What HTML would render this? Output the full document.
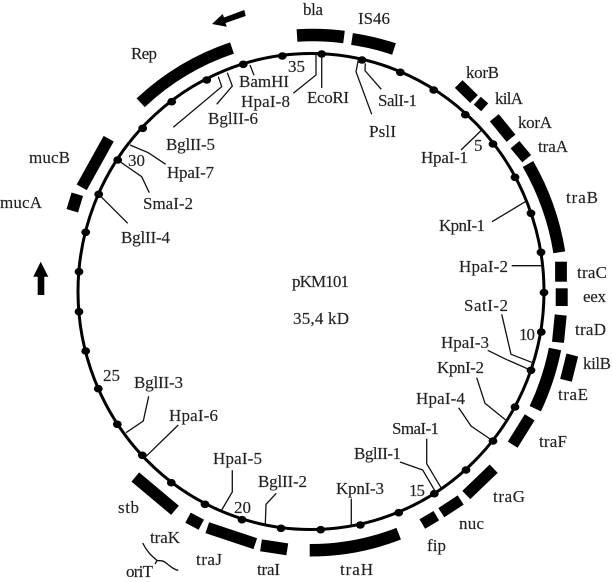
<!DOCTYPE html>
<html><head><meta charset="utf-8"><style>
html,body{margin:0;padding:0;background:#fff}
svg{display:block;filter:blur(0.35px)}
text{font-family:"Liberation Serif",serif;font-size:17px;fill:#222;stroke:#222;stroke-width:0.15px}
</style></head><body>
<svg width="612" height="582" viewBox="0 0 612 582" xmlns="http://www.w3.org/2000/svg">
<rect width="612" height="582" fill="#fff"/>
<ellipse cx="311" cy="291.5" rx="233" ry="238" fill="none" stroke="#000" stroke-width="3"/>
<g fill="#000">
<ellipse cx="282.3" cy="56" rx="4.4" ry="3.8"/><ellipse cx="243.3" cy="64.3" rx="4.4" ry="3.8"/><ellipse cx="206.7" cy="80" rx="4.4" ry="3.8"/><ellipse cx="171.7" cy="101.7" rx="4.4" ry="3.8"/><ellipse cx="142.7" cy="128.3" rx="4.4" ry="3.8"/><ellipse cx="117.7" cy="160" rx="4.4" ry="3.8"/><ellipse cx="98.7" cy="194.3" rx="4.4" ry="3.8"/><ellipse cx="85.7" cy="232.3" rx="4.4" ry="3.8"/><ellipse cx="79" cy="271.7" rx="4.4" ry="3.8"/>
<ellipse cx="321.7" cy="54" rx="4.4" ry="3.8"/><ellipse cx="362" cy="60" rx="4.4" ry="3.8"/><ellipse cx="400.3" cy="72.3" rx="4.4" ry="3.8"/><ellipse cx="433.7" cy="90" rx="4.4" ry="3.8"/><ellipse cx="465.3" cy="114.7" rx="4.4" ry="3.8"/><ellipse cx="493" cy="144" rx="4.4" ry="3.8"/><ellipse cx="515" cy="177.3" rx="4.4" ry="3.8"/><ellipse cx="531" cy="213.3" rx="4.4" ry="3.8"/><ellipse cx="541" cy="252.3" rx="4.4" ry="3.8"/><ellipse cx="544" cy="292.5" rx="4.4" ry="3.8"/>
<ellipse cx="79" cy="311.7" rx="4.4" ry="3.8"/><ellipse cx="85.7" cy="351" rx="4.4" ry="3.8"/><ellipse cx="98.3" cy="388.7" rx="4.4" ry="3.8"/><ellipse cx="117.3" cy="424.3" rx="4.4" ry="3.8"/><ellipse cx="142.3" cy="455.3" rx="4.4" ry="3.8"/><ellipse cx="171.3" cy="482.7" rx="4.4" ry="3.8"/><ellipse cx="205" cy="504.3" rx="4.4" ry="3.8"/><ellipse cx="242" cy="519.7" rx="4.4" ry="3.8"/><ellipse cx="281" cy="528.3" rx="4.4" ry="3.8"/>
<ellipse cx="541.3" cy="332" rx="4.4" ry="3.8"/><ellipse cx="531" cy="370.3" rx="4.4" ry="3.8"/><ellipse cx="515" cy="407" rx="4.4" ry="3.8"/><ellipse cx="493" cy="441" rx="4.4" ry="3.8"/><ellipse cx="466" cy="470" rx="4.4" ry="3.8"/><ellipse cx="434.3" cy="493.7" rx="4.4" ry="3.8"/><ellipse cx="398.7" cy="512.7" rx="4.4" ry="3.8"/><ellipse cx="360.3" cy="525" rx="4.4" ry="3.8"/><ellipse cx="320.7" cy="529.7" rx="4.4" ry="3.8"/>
</g>
<g fill="none" stroke="#000">
<path stroke-width="12" d="M140.7 102.7A251 256 0 0 1 232 48"/>
<path stroke-width="12.5" d="M297 35.5A251 256 0 0 1 344 37"/>
<path stroke-width="12" d="M352 39A251 256 0 0 1 394 49"/>
<path stroke-width="11" d="M458.7 84L474 99"/>
<path stroke-width="10.5" d="M477.3 100.7L484.7 107.3"/>
<path stroke-width="11.5" d="M494.3 117.7L511 138.3"/>
<path stroke-width="11.5" d="M515 144.7L526.7 158.7"/>
<path stroke-width="12" d="M528 164A251 256 0 0 1 559.3 252.3"/>
<path stroke-width="11.8" d="M561 261.7V281.7"/>
<path stroke-width="12" d="M561.7 288.3V306"/>
<path stroke-width="12" d="M560.7 315L558 342.3"/>
<path stroke-width="12.5" d="M555 349A251 256 0 0 1 535.3 408.7"/>
<path stroke-width="12" d="M572.3 355L566 380.3"/>
<path stroke-width="11.5" d="M529.7 417.3L512.7 444.7"/>
<path stroke-width="11.5" d="M493.7 468.7L466.3 495"/>
<path stroke-width="11" d="M460.7 500L441.3 512.7"/>
<path stroke-width="11" d="M436.3 515.7L422.3 524"/>
<path stroke-width="12.5" d="M398.7 533.7A251 256 0 0 1 309.7 550.3"/>
<path stroke-width="12" d="M261 545.3L287.3 549.3"/>
<path stroke-width="11.5" d="M207.3 527.7L255.3 543.7"/>
<path stroke-width="11.5" d="M188 517.7L201.3 524.7"/>
<path stroke-width="12" d="M135.3 477L175 510.3"/>
<path stroke-width="12" d="M77.3 194.3L72.3 210.7"/>
<path stroke-width="11.5" d="M108.7 138.7L81.7 187.3"/>
</g>
<g fill="#000">
<polygon points="212,24 222.7,14 224,17.5 244.3,10 245.7,16 225.5,23 226.7,26.7"/>
<polygon points="40.7,261.7 48.3,276.7 44.3,276.7 44.3,295 37.7,295 37.7,276.7 33.3,276.7"/>
</g>
<g fill="none" stroke="#111" stroke-width="1.3">
<path d="M250 65L254 75.3"/>
<path d="M293.3 93.3L316 75V55"/>
<path d="M321.7 55V88"/>
<path d="M227.3 72.7L232.3 86L216.7 104.3"/>
<path d="M218.3 76.7L221.7 86.7L173.3 127.3"/>
<path d="M130 145L148.3 152.7L165.7 164.3"/>
<path d="M120 161.7L141.7 176.7L149.3 192.7"/>
<path d="M98.7 194.3L127.7 223.3"/>
<path d="M358.3 60L356 71.7L371.7 114.3"/>
<path d="M365.3 63.3L365 70.7L381.3 89.3"/>
<path d="M481.7 130L461 150"/>
<path d="M525.3 201.7L492 221.7"/>
<path d="M511.7 265.7H542"/>
<path d="M126 432.7L143.3 421L148.7 396.3"/>
<path d="M145.7 456.7L178.3 425"/>
<path d="M221.7 510L232.3 492V470.3"/>
<path d="M265.3 524.3L266 504.3L276.3 493.3"/>
<path d="M142.7 543C147 552 152 556 157 560.5C160 561 163 560 166 563C170 566 174 570 178.3 570.3"/>
<path d="M157 560.5L155 564"/>
<path d="M501.7 314.3L511 354.3L532.7 362.7"/>
<path d="M487.7 350.3L506 359.3L531 370.3"/>
<path d="M476.7 377.7L485 403.3L506 420.3"/>
<path d="M458.7 407.7L471 426L493 441"/>
<path d="M426.7 438.7V463.7L441 487.7"/>
<path d="M400 462L422.7 470L436 492.7"/>
<path d="M351.3 498.7V526"/>
</g>
<text x="131" y="59" textLength="26" lengthAdjust="spacing">Rep</text>
<text x="29" y="163" textLength="41" lengthAdjust="spacing">mucB</text>
<text x="0" y="208" textLength="42" lengthAdjust="spacing">mucA</text>
<text x="239" y="87" textLength="50" lengthAdjust="spacing">BamHI</text>
<text x="241" y="107" textLength="49" lengthAdjust="spacing">HpaI-8</text>
<text x="208" y="124" textLength="50" lengthAdjust="spacing">BglII-6</text>
<text x="166" y="150" textLength="49" lengthAdjust="spacing">BglII-5</text>
<text x="167" y="178" textLength="47" lengthAdjust="spacing">HpaI-7</text>
<text x="128" y="166" textLength="17" lengthAdjust="spacing">30</text>
<text x="143" y="209" textLength="50" lengthAdjust="spacing">SmaI-2</text>
<text x="121" y="243" textLength="49" lengthAdjust="spacing">BglII-4</text>
<text x="288" y="72" textLength="17" lengthAdjust="spacing">35</text>
<text x="303" y="15" textLength="20" lengthAdjust="spacing">bla</text>
<text x="358" y="24" textLength="32" lengthAdjust="spacing">IS46</text>
<text x="307" y="103" textLength="42" lengthAdjust="spacing">EcoRI</text>
<text x="378" y="106" textLength="39" lengthAdjust="spacing">SalI-1</text>
<text x="369" y="137" textLength="27" lengthAdjust="spacing">PslI</text>
<text x="466" y="78" textLength="33" lengthAdjust="spacing">korB</text>
<text x="495" y="104" textLength="28" lengthAdjust="spacing">kilA</text>
<text x="518" y="128" textLength="34" lengthAdjust="spacing">korA</text>
<text x="538" y="152" textLength="30" lengthAdjust="spacing">traA</text>
<text x="474" y="151">5</text>
<text x="421" y="163" textLength="47" lengthAdjust="spacing">HpaI-1</text>
<text x="566" y="203" textLength="32" lengthAdjust="spacing">traB</text>
<text x="439" y="231" textLength="46" lengthAdjust="spacing">KpnI-1</text>
<text x="459" y="272" textLength="49" lengthAdjust="spacing">HpaI-2</text>
<text x="577" y="278" textLength="30" lengthAdjust="spacing">traC</text>
<text x="292" y="287" textLength="57" lengthAdjust="spacing">pKM101</text>
<text x="293" y="324" textLength="56" lengthAdjust="spacing">35,4 kD</text>
<text x="583" y="302" textLength="23" lengthAdjust="spacing">eex</text>
<text x="575" y="335" textLength="31" lengthAdjust="spacing">traD</text>
<text x="464" y="311" textLength="44" lengthAdjust="spacing">SatI-2</text>
<text x="519" y="340" textLength="16" lengthAdjust="spacing">10</text>
<text x="441" y="348" textLength="48" lengthAdjust="spacing">HpaI-3</text>
<text x="437" y="373" textLength="47" lengthAdjust="spacing">KpnI-2</text>
<text x="583" y="369" textLength="28" lengthAdjust="spacing">kilB</text>
<text x="558" y="400" textLength="30" lengthAdjust="spacing">traE</text>
<text x="416" y="404" textLength="49" lengthAdjust="spacing">HpaI-4</text>
<text x="539" y="447" textLength="28" lengthAdjust="spacing">traF</text>
<text x="392" y="434" textLength="47" lengthAdjust="spacing">SmaI-1</text>
<text x="354" y="459" textLength="47" lengthAdjust="spacing">BglII-1</text>
<text x="409" y="496" textLength="16" lengthAdjust="spacing">15</text>
<text x="336" y="494" textLength="48" lengthAdjust="spacing">KpnI-3</text>
<text x="493" y="502" textLength="32" lengthAdjust="spacing">traG</text>
<text x="459" y="529" textLength="25" lengthAdjust="spacing">nuc</text>
<text x="427" y="551" textLength="19" lengthAdjust="spacing">fip</text>
<text x="340" y="575" textLength="33" lengthAdjust="spacing">traH</text>
<text x="103" y="381" textLength="17" lengthAdjust="spacing">25</text>
<text x="134" y="388" textLength="49" lengthAdjust="spacing">BglII-3</text>
<text x="169" y="421" textLength="49" lengthAdjust="spacing">HpaI-6</text>
<text x="213" y="464" textLength="49" lengthAdjust="spacing">HpaI-5</text>
<text x="258" y="487" textLength="49" lengthAdjust="spacing">BglII-2</text>
<text x="234" y="513" textLength="17" lengthAdjust="spacing">20</text>
<text x="118" y="513" textLength="21" lengthAdjust="spacing">stb</text>
<text x="150" y="543" textLength="30" lengthAdjust="spacing">traK</text>
<text x="196" y="565" textLength="26" lengthAdjust="spacing">traJ</text>
<text x="257" y="575" textLength="23" lengthAdjust="spacing">traI</text>
<text x="126" y="577" textLength="27" lengthAdjust="spacing">oriT</text>
</svg>
</body></html>
